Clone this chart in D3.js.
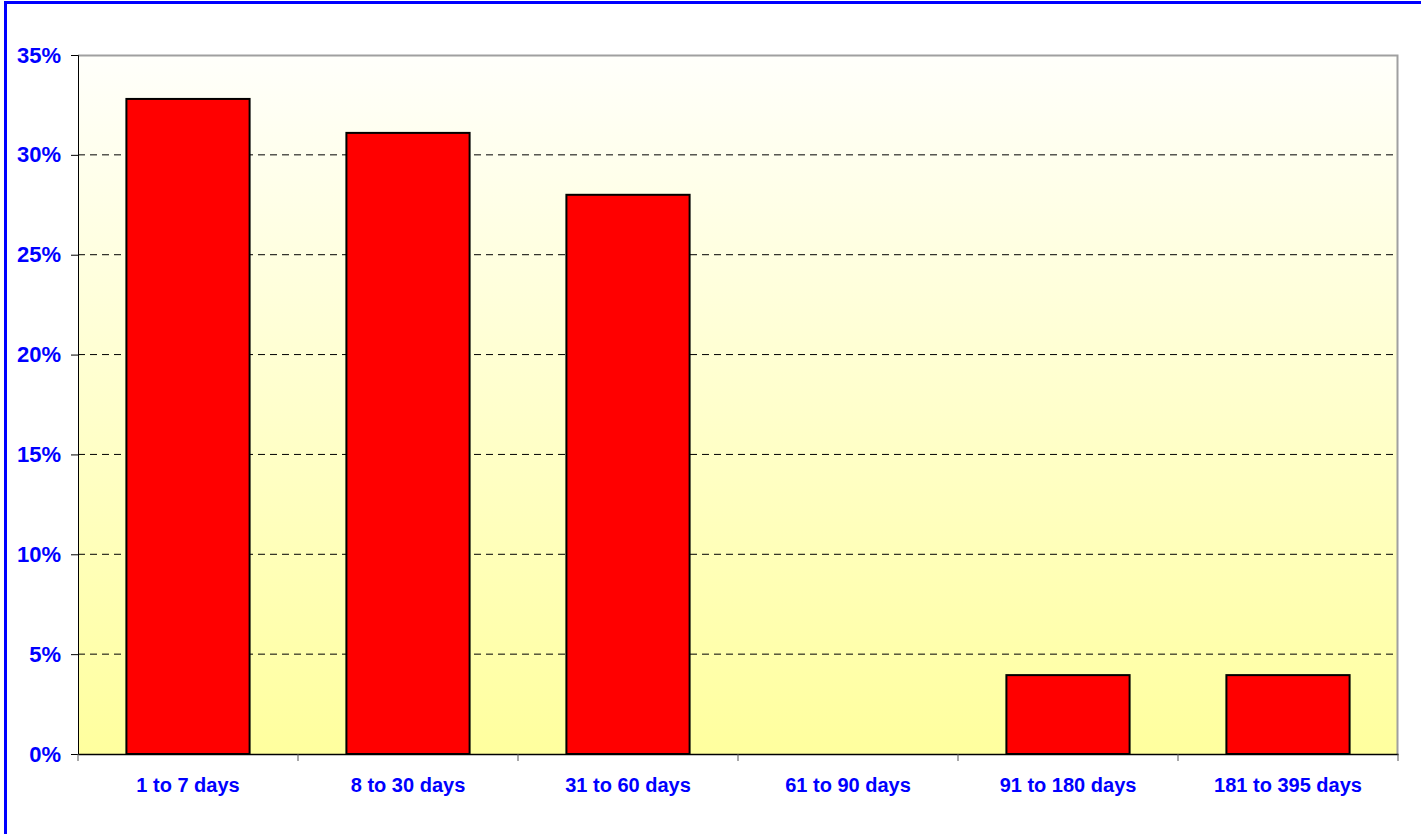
<!DOCTYPE html>
<meta charset="utf-8">
<style>
body { margin: 0; background: #fff; overflow: hidden; }
svg { display: block; }
.tick text { font-family: "Liberation Sans", Arial, sans-serif; font-weight: bold; fill: #0000ff; }
.grid line { stroke: #000; stroke-dasharray: 7,5; }
</style>
<body>
<script src="https://d3js.org/d3.v7.min.js"></script>
<script>
// chart data
var categories = ["1 to 7 days", "8 to 30 days", "31 to 60 days", "61 to 90 days", "91 to 180 days", "181 to 395 days"];
var shares = [32.8, 31.1, 28.0, 0, 3.95, 3.95];
var yTicks = [0, 5, 10, 15, 20, 25, 30, 35];

var W = 1421, H = 834;
var margin = {top: 55, right: 23, bottom: 80, left: 78},
    width = W - margin.left - margin.right,
    height = H - margin.top - margin.bottom;

var svg = d3.select("body").append("svg")
    .attr("width", W)
    .attr("height", H);

// outer blue frame (right and bottom edges fall outside the picture)
svg.append("rect")
    .attr("x", 5.5).attr("y", 2.5)
    .attr("width", W + 20).attr("height", H + 20)
    .attr("fill", "none")
    .attr("stroke", "#0000ff")
    .attr("stroke-width", 3);

var defs = svg.append("defs");
var grad = defs.append("linearGradient")
    .attr("id", "bg").attr("x1", 0).attr("y1", 0).attr("x2", 0).attr("y2", 1);
grad.append("stop").attr("offset", "0%").attr("stop-color", "#fffffb");
grad.append("stop").attr("offset", "100%").attr("stop-color", "#ffff9e");

var g = svg.append("g")
    .attr("transform", "translate(" + margin.left + "," + margin.top + ")");

var x = d3.scaleBand().domain(categories).range([0, width]);
var y = d3.scaleLinear().domain([0, 35]).range([height, 0]);

g.append("rect")
    .attr("width", width).attr("height", height)
    .attr("fill", "url(#bg)");

// dashed gridlines
g.append("g")
    .attr("class", "grid")
    .selectAll("line")
    .data(yTicks.filter(function(d) { return d > 0 && d < 35; }))
    .enter().append("line")
    .attr("x1", 0).attr("x2", width)
    .attr("y1", function(d) { return y(d); })
    .attr("y2", function(d) { return y(d); });

// top and right border of the plot area
g.append("path")
    .attr("d", "M0,0.5H" + (width - 0.5) + "V" + height)
    .attr("fill", "none")
    .attr("stroke", "#a0a0a0")
    .attr("stroke-width", 2);

var barW = x.bandwidth() * 0.56;
var idx = d3.range(categories.length).filter(function(i) { return shares[i] > 0; });
g.selectAll(".bar")
    .data(idx)
    .enter().append("rect")
    .attr("class", "bar")
    .attr("x", function(i) { return x(categories[i]) + (x.bandwidth() - barW) / 2; })
    .attr("y", function(i) { return y(shares[i]); })
    .attr("width", barW)
    .attr("height", function(i) { return height - y(shares[i]); })
    .attr("fill", "#ff0000")
    .attr("stroke", "#000")
    .attr("stroke-width", 2);

// Y axis
var yAxis = g.append("g")
    .call(d3.axisLeft(y).tickValues(yTicks).tickSize(7).tickPadding(10)
      .tickFormat(function(d) { return d + "%"; }));
yAxis.selectAll("text").style("font-size", "22px");
yAxis.selectAll("line,path").attr("stroke", "#000");

// X axis: ticks sit between categories
var xAxis = g.append("g")
    .attr("transform", "translate(0," + height + ")")
    .call(d3.axisBottom(x).tickSize(0).tickPadding(24));
xAxis.selectAll("text").style("font-size", "20px");
xAxis.select(".domain").attr("stroke", "#000").attr("stroke-width", 1.5);
xAxis.selectAll(".sep")
    .data(d3.range(categories.length + 1))
    .enter().append("line")
    .attr("class", "sep")
    .attr("x1", function(i) { return i * x.step(); })
    .attr("x2", function(i) { return i * x.step(); })
    .attr("y1", 0).attr("y2", 7)
    .attr("stroke", "#555");
</script>
</body>
